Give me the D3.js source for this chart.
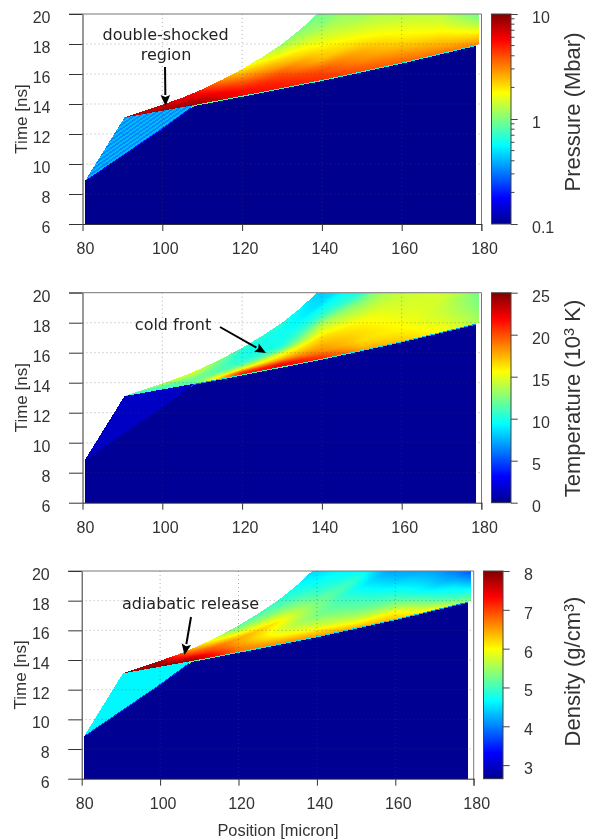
<!DOCTYPE html>
<html>
<head>
<meta charset="utf-8">
<style>
  html, body { margin: 0; padding: 0; background: #fff; }
  #heat { position: absolute; left: 0; top: 0; filter: blur(0.55px); }
  #over { position: absolute; left: 0; top: 0; }
  text { font-family: "Liberation Sans", Arial, sans-serif; fill: #333; }
  .note { font-family: "DejaVu Sans", sans-serif; fill: #222; font-size: 16px; }
</style>
</head>
<body>
<canvas id="heat" width="592" height="840"></canvas>
<svg id="over" width="592" height="840"></svg>
<script src="https://cdn.jsdelivr.net/npm/d3@7"></script>
<script>
var xTicks = [80, 100, 120, 140, 160, 180];
var yTicks = [6, 8, 10, 12, 14, 16, 18, 20];
var pressureTicks = [0.1, 1, 10];
var pressureMinor = [0.2, 0.3, 0.4, 0.5, 0.6, 0.7, 0.8, 0.9, 2, 3, 4, 5, 6, 7, 8, 9];
var temperatureTicks = [0, 5, 10, 15, 20, 25];
var densityTicks = [3, 4, 5, 6, 7, 8];

// boundaries: position [micron] -> time [ns]
var breakoutPos = [80.7, 100, 108, 120, 140, 160, 178.5, 180];
var breakoutTime = [8.9, 12.38, 13.93, 14.55, 15.6, 16.76, 17.93, 18.03];
var secondPos = [80.7, 90.5];
var secondTime = [8.9, 13.1];
var fanLowPos = [90.5, 108, 120, 140, 160, 178.5, 180];
var fanLowTime = [13.1, 13.93, 14.55, 15.6, 16.76, 17.93, 18.03];
var fanTopPos = [90.5, 100, 105, 110, 115, 120, 125, 130, 134.4, 138.8, 150, 160, 170, 180];
var fanTopTime = [13.1, 13.95, 14.42, 14.98, 15.62, 16.33, 17.12, 18, 18.93, 20, 22.7, 25.3, 28, 31];

// table of the release fan: one line per position, one entry per height in the fan
var fanPos = [90.5, 100, 108, 120, 130, 140, 150, 160, 170, 175, 179.4];
var fanHeight = [0, 0.05, 0.1, 0.15, 0.2, 0.3, 0.4, 0.5, 0.6, 0.8, 1];

var pressureFan = [
  [7.5, 7.5, 7.5, 7.5, 7.5, 7.5, 7.5, 7.5, 7.5, 7.5, 7.5],
  [8.5, 8.5, 8.3, 8.2, 8, 8, 7.8, 7.6, 7.4, 7.2, 7],
  [9, 8.8, 8.6, 8.5, 8.3, 8, 7.6, 7, 6.6, 6, 5.5],
  [5.6, 5.6, 5.5, 5.5, 5.3, 4.8, 4.3, 3.9, 3.4, 2.6, 1.9],
  [5.2, 5, 4.9, 4.7, 4.5, 4, 3.4, 2.7, 2.3, 1.6, 1.1],
  [4.6, 4.4, 4.1, 3.8, 3.3, 2.4, 2.1, 1.75, 1.5, 1.05, 0.9],
  [4, 3.6, 3.1, 2.8, 2.6, 2, 1.6, 1.3, 1.1, 1, 0.9],
  [3.6, 3.1, 2.6, 2.2, 1.9, 1.5, 1.2, 1.15, 1.1, 1.05, 1],
  [3.4, 2.6, 2.1, 1.7, 1.45, 1.15, 1.1, 1.05, 1, 1, 1],
  [3.2, 2.3, 1.7, 1.3, 1.05, 1, 1, 1, 1, 1, 1],
  [3, 2, 1.3, 0.95, 0.85, 0.8, 0.8, 0.8, 0.8, 0.8, 0.8]
];
var temperatureFan = [
  [10.5, 10.5, 10.5, 10.5, 10.5, 10.5, 10.5, 10.5, 10.5, 10.5, 10.5],
  [11, 11, 11, 11, 11, 11, 11, 11.5, 12, 13, 14.5],
  [11.5, 11.5, 11.5, 12, 12, 12, 12, 12.5, 13, 14, 15],
  [21, 21, 20, 18, 16, 13, 11, 10.5, 10, 10, 10.5],
  [22, 22, 20.5, 18.5, 17, 15, 11.5, 10, 9.8, 9.7, 10.2],
  [21, 20, 18.5, 18, 17.5, 16.5, 15, 13.5, 11, 8.5, 8],
  [18, 17, 16.5, 16.5, 16.3, 15.5, 14, 12.5, 10, 9, 9],
  [17, 16.3, 15.7, 15.5, 15, 14.5, 14, 13.5, 13, 12, 12],
  [15.5, 15, 14.5, 14.3, 14.5, 14.5, 14.5, 14.5, 14.5, 14.5, 14.5],
  [14.5, 14, 13.5, 13.3, 13.5, 13.8, 13.8, 13.8, 13.8, 13.8, 13.8],
  [13.5, 13, 12.5, 12.3, 12.5, 12.5, 12.5, 12.5, 12.5, 12.5, 12.5]
];
var densityFan = [
  [7.8, 7.8, 7.8, 7.8, 7.8, 7.8, 7.8, 7.8, 7.8, 7.8, 7.8],
  [7.9, 7.9, 7.9, 7.9, 7.9, 7.85, 7.85, 7.8, 7.8, 7.75, 7.7],
  [7.9, 7.85, 7.8, 7.75, 7.7, 7.5, 7.3, 7.1, 7, 6.7, 6.4],
  [6.7, 6.7, 6.7, 6.65, 6.6, 6.5, 6.45, 6.45, 6.2, 5.6, 5.1],
  [6.6, 6.45, 6.3, 6.15, 6, 5.85, 5.95, 6.1, 5.8, 5.2, 4.9],
  [6.5, 6.3, 6, 5.75, 5.6, 5.3, 5.35, 5.25, 5, 4.65, 4.4],
  [6.4, 6, 5.65, 5.4, 5.2, 4.95, 4.7, 4.9, 4.6, 4.4, 4.3],
  [6.3, 6.05, 5.5, 5.1, 4.85, 4.4, 4.1, 4, 3.9, 3.9, 3.9],
  [6, 5.2, 4.8, 4.45, 4.3, 4, 3.9, 3.9, 3.9, 3.9, 3.9],
  [5.6, 4.9, 4.6, 4.2, 3.95, 3.9, 3.9, 3.9, 3.9, 3.9, 3.9],
  [5.3, 4.8, 4.25, 3.8, 3.6, 3.6, 3.6, 3.6, 3.6, 3.6, 3.6]
];

// colours of the R "tim.colors" style jet ramp
var jetStops = [0, 0.125, 0.375, 0.625, 0.875, 1];
var jetColors = ["#00008f", "#0000ff", "#00ffff", "#ffff00", "#ff0000", "#800000"];
var jet = d3.scaleLinear().domain(jetStops).range(jetColors).clamp(true);

var breakout = d3.scaleLinear().domain(breakoutPos).range(breakoutTime);
var second = d3.scaleLinear().domain(secondPos).range(secondTime);
var fanLow = d3.scaleLinear().domain(fanLowPos).range(fanLowTime);
var fanTop = d3.scaleLinear().domain(fanTopPos).range(fanTopTime);
var posIndex = d3.scaleLinear().domain(fanPos).range(d3.range(fanPos.length)).clamp(true);
var heightIndex = d3.scaleLinear().domain(fanHeight).range(d3.range(fanHeight.length)).clamp(true);

var panels = [
  {
    left: 82.5, right: 481.5, top: 14, bottom: 224,
    barLeft: 491.5, barRight: 511, labelX: 532,
    scale: d3.scaleLog().domain([0.1, 10]), ticks: pressureTicks, minor: pressureMinor,
    fan: pressureFan, cold: 0.1, shocked: [0.33, 0.41],
    label: ["Pressure (Mbar)"], labelY: 112, tickFormat: function (d) { return String(d); },
    note: [["double-shocked", 165.5, 40], ["region", 166, 60]],
    arrow: [165, 67, 165.5, 106]
  },
  {
    left: 82.5, right: 481.5, top: 292.7, bottom: 502.7,
    barLeft: 491.5, barRight: 511, labelX: 532,
    scale: d3.scaleLinear().domain([0, 25]), ticks: temperatureTicks, minor: [],
    fan: temperatureFan, cold: 0.2, shocked: [1.5, 1.5],
    label: ["Temperature (10", "3", " K)"], labelY: 398.5, tickFormat: function (d) { return String(d); },
    note: [["cold front", 173, 329.5]],
    arrow: [220, 327, 266, 353]
  },
  {
    left: 81.7, right: 473.7, top: 571, bottom: 778.7,
    barLeft: 483.5, barRight: 503, labelX: 524,
    scale: d3.scaleLinear().domain([2.65, 8]), ticks: densityTicks, minor: [],
    fan: densityFan, cold: 2.67, shocked: [4.62, 4.62],
    label: ["Density (g/cm", "3", ")"], labelY: 671.5, tickFormat: function (d) { return String(d); },
    note: [["adiabatic release", 190.5, 608.5]],
    arrow: [191, 617, 184.5, 655]
  }
];

var ctx = document.getElementById("heat").getContext("2d");
var svg = d3.select("#over");

// colour fraction at one point of the fan table, bilinear between table entries
function fanColor(p, pos, t) {
  var lo = fanLow(pos);
  var f = (t - lo) / (fanTop(pos) - lo);
  var ci = posIndex(pos), ri = heightIndex(f);
  var c0 = Math.min(Math.floor(ci), fanPos.length - 2), r0 = Math.min(Math.floor(ri), fanHeight.length - 2);
  var a = ci - c0, b = ri - r0;
  var s = p.scale;
  var top = s(p.fan[c0][r0]) * (1 - a) + s(p.fan[c0 + 1][r0]) * a;
  var bot = s(p.fan[c0][r0 + 1]) * (1 - a) + s(p.fan[c0 + 1][r0 + 1]) * a;
  return top * (1 - b) + bot * b;
}

function fieldAt(p, pos, t, stripe) {
  if (pos < 80.6 || pos > 179.4 || t > 20 || t < 6) return null;
  var front = breakout(pos);
  if (t < front) {
    if (pos > 178.5) return null;
    if (front - t < 0.07) {
      var above = fieldAt(p, pos, front + 0.1, 0);
      if (above !== null) return (p.scale(p.cold) + above) / 2;
    }
    return p.scale(p.cold);
  }
  if (pos < 90.5 && t > second(pos)) return null;
  if (pos < 108 && t < fanLow(pos)) return p.scale(p.shocked[stripe]);
  if (pos < 90.5) return null;
  if (t > fanTop(pos)) return null;
  return fanColor(p, pos, t);
}

function drawHeat(p, x, y) {
  var px, py, c, stripe;
  for (py = Math.round(p.top); py < Math.round(p.bottom); py++) {
    for (px = Math.floor(p.left); px < Math.ceil(p.right); px++) {
      stripe = Math.floor(px * 0.7 + py) % 4 < 2 ? 0 : 1;
      c = fieldAt(p, x.invert(px + 0.5), y.invert(py + 0.5), stripe);
      if (c === null) continue;
      ctx.fillStyle = jet(c);
      ctx.fillRect(px, py, 1, 1);
    }
  }
}

function drawPanel(p, i) {
  var x = d3.scaleLinear().domain([80, 180]).range([p.left, p.right]);
  var y = d3.scaleLinear().domain([6, 20]).range([p.bottom, p.top]);
  drawHeat(p, x, y);

  var g = svg.append("g");

  // dotted grid sits over the image
  g.selectAll(".gx").data(xTicks.slice(1, 5)).enter().append("line")
    .attr("x1", x).attr("x2", x).attr("y1", p.top).attr("y2", p.bottom)
    .attr("stroke", "rgba(70,70,70,0.42)").attr("stroke-dasharray", "1,3");
  g.selectAll(".gy").data(yTicks.slice(1, 7)).enter().append("line")
    .attr("y1", y).attr("y2", y).attr("x1", p.left).attr("x2", p.right)
    .attr("stroke", "rgba(70,70,70,0.42)").attr("stroke-dasharray", "1,3");

  // gray top and right of the box
  g.append("line").attr("x1", p.left - 13.5).attr("x2", p.right).attr("y1", p.top).attr("y2", p.top)
    .attr("stroke", "#777");
  g.append("line").attr("x1", p.right).attr("x2", p.right).attr("y1", p.top).attr("y2", p.bottom + 7)
    .attr("stroke", "#777");

  var ax = g.append("g").attr("transform", "translate(0," + p.bottom + ")")
    .call(d3.axisBottom(x).tickValues(xTicks).tickSize(7).tickSizeOuter(0));
  ax.selectAll("text").attr("font-size", 16).attr("x", 2.5).attr("y", 19).attr("dy", "0.71em");
  ax.selectAll("line, path").attr("stroke", "#333");
  ax.attr("font-family", null).attr("font-size", null);

  var ay = g.append("g").attr("transform", "translate(" + p.left + ",0)")
    .call(d3.axisLeft(y).tickValues(yTicks).tickSize(13.5).tickSizeOuter(0));
  ay.selectAll("text").attr("font-size", 16).attr("x", -32).attr("dy", "0.65em").attr("y", -2);
  ay.selectAll("line, path").attr("stroke", "#333");
  ay.attr("font-family", null).attr("font-size", null);

  g.append("text").attr("transform", "translate(" + (p.left - 56) + "," + ((p.top + p.bottom) / 2) + ") rotate(-90)")
    .attr("text-anchor", "middle").attr("font-size", 17).text("Time [ns]");

  // colour bar, one rect per pixel row
  var barY = p.scale.copy().range([p.bottom, p.top]);
  var rows = d3.range(Math.round(p.top), Math.round(p.bottom));
  g.selectAll(".bar").data(rows).enter().append("rect")
    .attr("x", p.barLeft).attr("width", p.barRight - p.barLeft)
    .attr("y", function (d) { return d; }).attr("height", 1)
    .attr("shape-rendering", "crispEdges")
    .attr("fill", function (d) { return jet((p.bottom - d - 0.5) / (p.bottom - p.top)); });
  g.append("rect").attr("x", p.barLeft).attr("y", p.top)
    .attr("width", p.barRight - p.barLeft).attr("height", p.bottom - p.top)
    .attr("fill", "none").attr("stroke", "#444");

  var barAxis = g.append("g").attr("transform", "translate(" + p.barRight + ",0)")
    .call(d3.axisRight(barY).tickValues(p.ticks).tickSize(6.7).tickSizeOuter(0).tickFormat(p.tickFormat));
  barAxis.select("path").remove();
  barAxis.selectAll("line").attr("stroke", "#444");
  barAxis.selectAll("text").attr("font-size", 16).attr("x", p.labelX - p.barRight)
    .attr("dy", "0.65em").attr("y", -2);
  barAxis.attr("font-family", null).attr("font-size", null);
  g.selectAll(".minor").data(p.minor).enter().append("line")
    .attr("x1", p.barRight).attr("x2", p.barRight + 3.5)
    .attr("y1", barY).attr("y2", barY).attr("stroke", "#444");

  var lab = g.append("text")
    .attr("transform", "translate(580," + p.labelY + ") rotate(-90)")
    .attr("text-anchor", "middle").attr("font-size", 22);
  lab.append("tspan").text(p.label[0]);
  if (p.label.length > 1) {
    lab.append("tspan").attr("dy", "-0.42em").attr("font-size", 14.5).text(p.label[1]);
    lab.append("tspan").attr("dy", "0.28em").text(p.label[2]);
  }

  // annotation
  p.note.forEach(function (n) {
    g.append("text").attr("class", "note").attr("x", n[1]).attr("y", n[2])
      .attr("text-anchor", "middle").text(n[0]);
  });
  var a = p.arrow;
  var ang = Math.atan2(a[3] - a[1], a[2] - a[0]);
  var back = 11, wide = 4.8;
  var bx = a[2] - back * Math.cos(ang), by = a[3] - back * Math.sin(ang);
  g.append("line").attr("x1", a[0]).attr("y1", a[1]).attr("x2", bx).attr("y2", by)
    .attr("stroke", "#000").attr("stroke-width", 2);
  g.append("path").attr("fill", "#000").attr("d", d3.line()([
    [a[2], a[3]],
    [bx - wide * Math.sin(ang), by + wide * Math.cos(ang)],
    [bx + 2 * Math.cos(ang), by + 2 * Math.sin(ang)],
    [bx + wide * Math.sin(ang), by - wide * Math.cos(ang)]
  ]) + "Z");

  if (i == 2) {
    g.append("text").attr("x", 278).attr("y", 835.5).attr("text-anchor", "middle")
      .attr("font-size", 16.4).text("Position [micron]");
  }
}

panels.forEach(drawPanel);
</script>
</body>
</html>
